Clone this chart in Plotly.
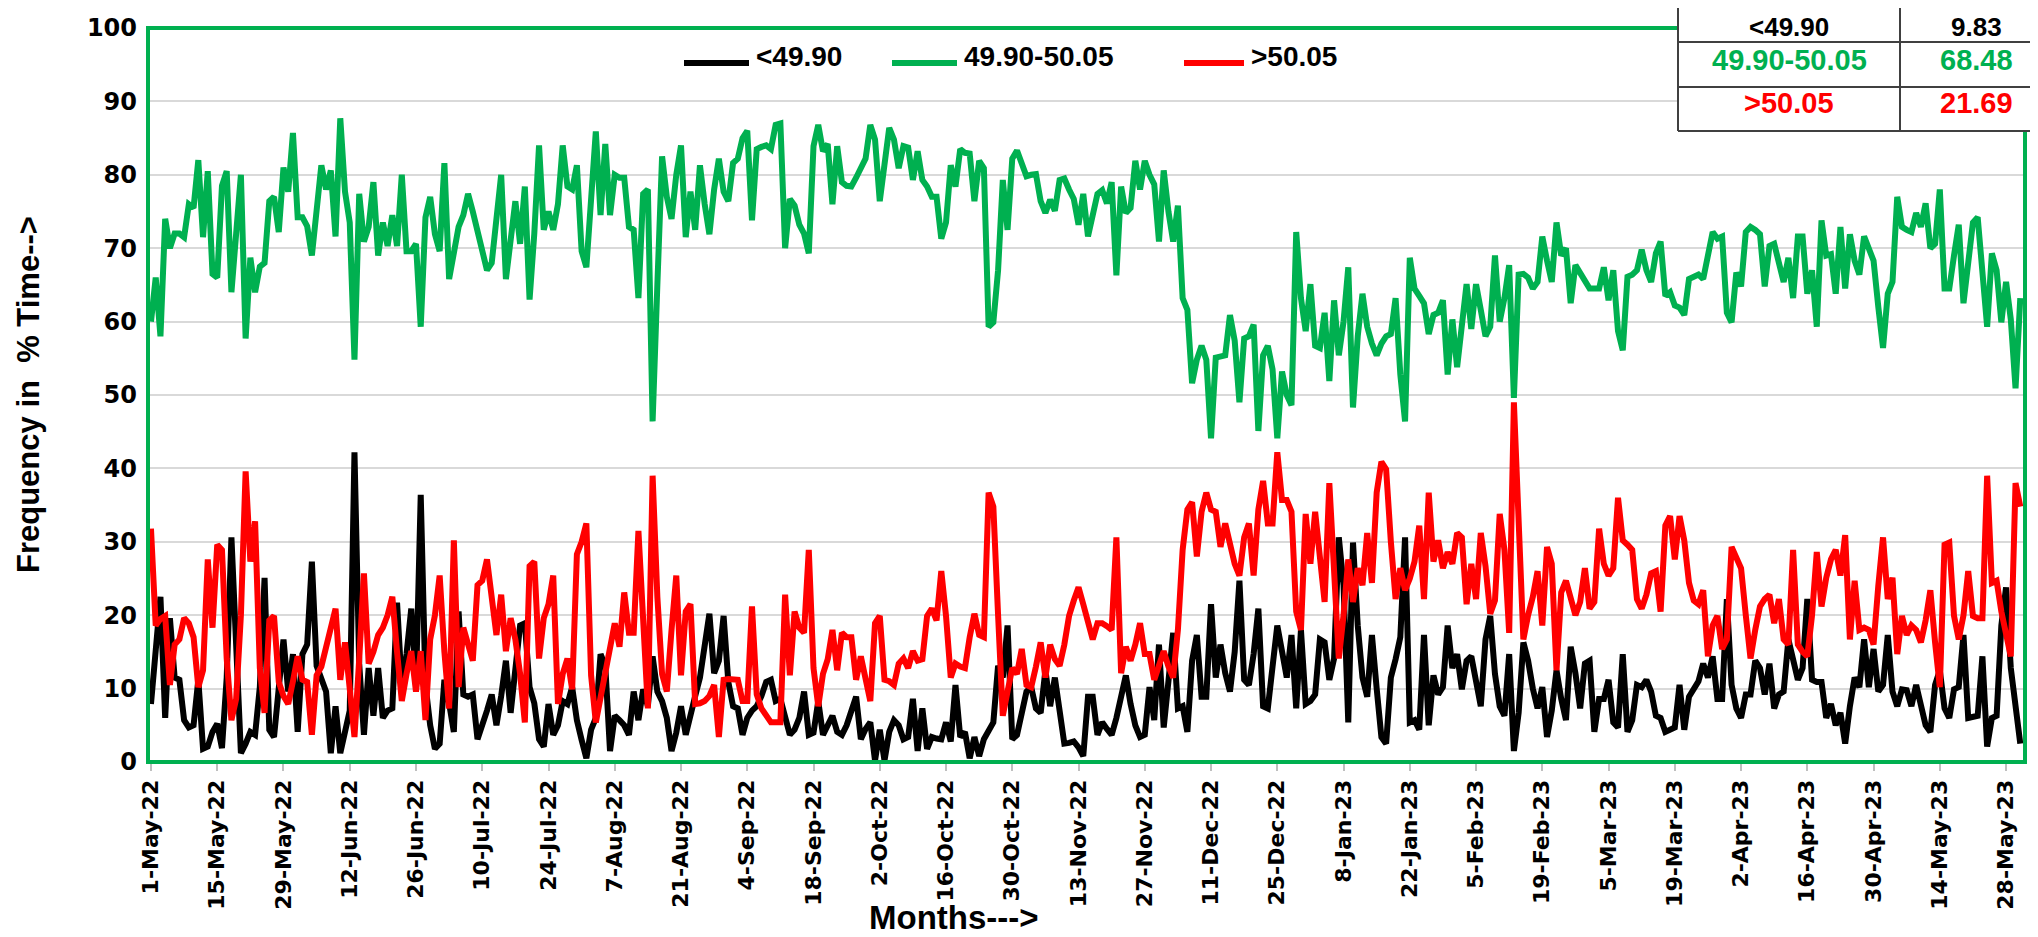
import pandas as pd
import plotly.graph_objects as go

# ---------------- data (daily % time in each frequency band) ----------------
start_date = "2022-05-01"

series_names = ["<49.90", "49.90-50.05", ">50.05"]
series_colors = ["#000000", "#00B050", "#FF0000"]

below_4990 = [
    7.9, 16, 22.5, 6, 19.6, 11.5, 11.2, 5.7, 4.7, 5,
    11.2, 1.8, 2.1, 4.1, 5.2, 1.9, 11.5, 30.6, 13.4, 1.2,
    2.5, 4.1, 3.7, 10.2, 25.1, 4.4, 3.4, 10, 16.7, 9.6,
    14.7, 4.1, 14.7, 16, 27.3, 13.1, 11, 9.6, 1.2, 7.6,
    1.2, 4, 7, 42.2, 13.4, 3.7, 12.8, 6.3, 12.8, 6,
    7, 7.3, 21.7, 10.2, 14.7, 20.9, 10.5, 36.4, 10.5, 5,
    1.8, 2.5, 11.2, 8, 4.1, 20.5, 9.2, 8.9, 9.2, 3.1,
    5.4, 7, 9.2, 5, 9, 13.8, 6.7, 12, 18.6, 18.9,
    10.2, 8, 3.1, 2.1, 7.9, 3.7, 5, 8.3, 7.9, 10.2,
    5.7, 3, 0.5, 4.4, 6, 14.7, 13.1, 1.5, 6.3, 5.7,
    5, 3.7, 9.6, 5.7, 9.9, 7.6, 14.4, 9.6, 8.3, 6,
    1.5, 4, 7.6, 3.7, 6.7, 9, 11.5, 16, 20.2, 12.1,
    13.8, 19.9, 10.9, 7.6, 7.3, 3.7, 6, 7, 7.6, 9,
    10.9, 11.2, 8.3, 8.6, 6, 3.7, 4.4, 6, 9.6, 3.7,
    4, 8.3, 3.7, 5, 6.3, 4.1, 3.7, 5, 7, 8.9,
    3.1, 4.5, 5.4, 0.2, 4.4, 0.2, 4.1, 5.7, 5, 3.1,
    3.4, 8.6, 1.5, 7.3, 1.8, 3.4, 3.2, 3.1, 5.4, 2.8,
    10.5, 3.4, 4.1, 0.5, 3.4, 0.8, 3.1, 4.4, 5.4, 13.1,
    11.5, 18.6, 3.1, 3.7, 7, 9.6, 10.2, 7.3, 6.7, 12.5,
    7.6, 11.5, 7, 2.5, 2.6, 2.8, 2, 0.8, 8.9, 8.9,
    3.7, 5.4, 4.5, 3.7, 6, 9, 11.8, 7.9, 5, 3.4,
    3.7, 10.2, 5.7, 16, 4.7, 11, 17.6, 7.3, 7.6, 4.1,
    13.8, 17.3, 8.9, 8.9, 21.5, 11.5, 16, 12.1, 9.6, 15,
    24.7, 11.2, 10.5, 14.7, 20.9, 7.6, 7.3, 13, 18.6, 15.1,
    11.5, 17.3, 7.3, 18, 7.9, 8.3, 9.2, 16.7, 16.3, 11.2,
    14.1, 30.6, 24.1, 5.4, 29.9, 18.6, 11.5, 8.9, 17.3, 10,
    3.4, 2.5, 11.5, 14, 17, 30.6, 5.4, 5.7, 4.4, 17.3,
    5, 11.8, 9.2, 10.2, 18.6, 12.8, 14.7, 9.9, 13.8, 14.4,
    11, 7.6, 16.7, 19.9, 12, 7.6, 6.3, 14.7, 1.5, 6.7,
    16.3, 13.8, 10, 7.3, 10.2, 3.4, 7, 12.5, 8.6, 5.7,
    15.7, 12.1, 7.3, 13.4, 13.8, 4.1, 8.6, 8.6, 11.2, 5.4,
    4.7, 14.7, 4.1, 5.7, 10.5, 10.2, 11.2, 9.6, 6.3, 6,
    4.1, 4.5, 4.7, 10.5, 4.4, 8.9, 9.9, 11, 13.4, 11.5,
    14.4, 8.6, 8.6, 22.2, 10.5, 7.3, 6, 9.2, 9.2, 13.8,
    12.8, 9.2, 13.4, 7.3, 9.2, 9.6, 16.7, 13.8, 11.2, 12.8,
    22.2, 11.2, 10.9, 10.9, 6, 7.9, 5, 6.7, 2.5, 7.6,
    11.5, 10.2, 16.7, 10.2, 15.4, 9.6, 10.5, 17.3, 9.6, 7.6,
    9.9, 9.8, 7.6, 10.5, 7.6, 5, 4.1, 10.5, 12.5, 7.3,
    6, 9.9, 10.2, 17.3, 6, 6.2, 6.3, 14.4, 2.1, 6,
    6.3, 18.6, 23.8, 12.8, 8, 2.5,
]

band_4990_5005 = [
    60, 66, 58, 74, 70, 72, 72, 71.5, 76, 75.5,
    82, 71.5, 80.5, 66.5, 66, 78.5, 80.5, 64, 72, 80,
    57.7, 68.7, 64, 67.5, 68, 76.4, 77, 72.2, 81, 77.7,
    85.7, 74.2, 74.2, 73, 69, 75, 81.3, 78, 80.6, 71.6,
    87.7, 77.7, 73.5, 54.8, 77.4, 70.9, 72.9, 79, 69, 73.5,
    70.3, 74.5, 70.3, 80, 69.6, 69.6, 70.6, 59.3, 74.2, 77,
    71.9, 69.6, 81.6, 65.8, 69, 72.9, 74.5, 77.4, 75, 72.2,
    69, 67, 68, 74, 80, 65.8, 72, 76.4, 70.6, 78.4,
    63, 72, 84, 72.5, 75, 72.5, 76, 84, 78.4, 78,
    81.3, 69.6, 67.4, 76, 85.9, 74.5, 84.2, 74.5, 80, 79.6,
    79.6, 72.9, 72.5, 63.2, 77.4, 78, 46.4, 65, 82.5, 77,
    74, 80, 84, 71.5, 77.7, 72.5, 81.3, 76, 71.9, 78,
    82.2, 77.7, 76.4, 81.6, 82.2, 85, 86, 73.8, 83.5, 83.8,
    84, 83.5, 86.8, 87, 70, 76.7, 75.8, 73.2, 72, 69.3,
    83.9, 86.8, 83.2, 84.2, 76, 83.9, 79, 78.5, 78.4, 79.6,
    81, 82.2, 86.8, 84.8, 76.4, 81, 86.4, 84.8, 80.9, 83.9,
    83.7, 79.3, 83.2, 79.3, 78.4, 77, 77, 71.3, 73.5, 81.3,
    78.4, 83.5, 83, 82.9, 76.4, 81.9, 80.9, 59.3, 59.9, 67,
    79.3, 72.5, 82.2, 83.3, 81.5, 79.8, 80, 80.1, 76.4, 74.8,
    76.6, 75.1, 79.3, 79.5, 78, 76.7, 73.2, 77.4, 71.6, 75,
    77.4, 77.9, 76.1, 79, 66.3, 78.4, 74.8, 75.5, 81.9, 78,
    81.9, 80, 78.7, 70.9, 80.6, 75, 70.9, 75.8, 63.2, 61.6,
    51.6, 54.8, 56.7, 54.8, 44.1, 55.1, 55.2, 55.4, 60.9, 57.4,
    49, 57.7, 58, 59.6, 45.1, 55.4, 56.7, 53.5, 44.1, 53.2,
    50, 48.6, 72.2, 63.2, 58.7, 65.1, 56.7, 56.4, 61.2, 51.9,
    62.9, 55.4, 60, 67.4, 48.3, 58, 63.8, 59.3, 57, 55.4,
    57, 58, 58.3, 63.2, 52.8, 46.4, 68.7, 64.5, 63.5, 62.5,
    58.3, 60.9, 61.2, 62.9, 52.8, 60.3, 53.8, 59.3, 65.1, 59,
    65.1, 61.6, 58, 59.3, 69, 60, 63.2, 67.7, 49.6, 66.4,
    66.5, 66, 64.5, 65.4, 71.6, 68.3, 65.4, 73.5, 69, 70,
    62.5, 67.7, 66.7, 65.8, 64.5, 64.5, 64.5, 67.4, 62.9, 67,
    58.7, 56.1, 66.1, 66.4, 67, 69.8, 67, 65.4, 69.3, 70.9,
    63.5, 64, 62.2, 61.9, 60.9, 65.8, 66.2, 66.4, 65.8, 69,
    72.2, 71.3, 71.6, 61.2, 59.9, 66.7, 64.8, 72.2, 72.9, 72.5,
    71.9, 64.8, 70.3, 70.6, 68, 65.4, 68.7, 63.2, 71.6, 71.6,
    63.8, 67, 59.3, 73.8, 69, 69.2, 63.8, 72.9, 64.5, 71.9,
    68.3, 66.4, 71.6, 70, 68.3, 62, 56.4, 63.8, 65.4, 77,
    72.9, 72.5, 72.2, 74.8, 72.9, 76.1, 70, 70.6, 78, 64.5,
    64.5, 69, 73.2, 62.5, 68, 73.5, 74.2, 67, 59.3, 69.3,
    67, 59.9, 65.4, 60.3, 50.9, 63.2,
]

above_5005 = [
    31.8, 18.6, 19.5, 19.9, 10.5, 16, 16.7, 19.6, 18.9, 17,
    10.2, 12.5, 27.6, 18.3, 29.6, 28.9, 14.1, 5.7, 8.6, 20,
    39.6, 27.3, 32.8, 12.8, 6.7, 19.3, 19.9, 10.9, 9, 7.9,
    11, 14.4, 11.2, 10.9, 3.7, 11.8, 13, 15.4, 18, 20.9,
    11.2, 16.3, 10, 3.4, 14, 25.7, 13.4, 15, 17.3, 18.3,
    20, 22.5, 15, 8.3, 12, 15.1, 9.6, 15.1, 5.7, 16.7,
    20, 25.4, 15, 7.3, 30.2, 10.2, 18.3, 16, 13.8, 24.1,
    24.7, 27.6, 21.5, 17.3, 22.8, 15.1, 19.6, 16.7, 12, 5.4,
    26.7, 27.3, 14.1, 19.6, 21.5, 25.4, 7.9, 12, 14.1, 9.9,
    28.3, 30, 32.5, 11.8, 5.4, 9, 12.8, 16, 18.9, 15.7,
    23.1, 17.6, 17.6, 31.5, 18, 7.3, 39, 22.5, 12, 9.6,
    18, 25.4, 11.8, 20.5, 21.5, 7.9, 8, 8.3, 9, 10.5,
    3.4, 11.2, 11.3, 11.2, 11.2, 8.3, 8.3, 21.2, 9.2, 7.3,
    6.5, 5.4, 5.4, 5.4, 22.8, 11.8, 20.5, 18.3, 17.6, 28.9,
    12.8, 7.6, 12, 14, 18, 12.5, 17.6, 17, 17, 11.2,
    14.4, 11.2, 8.3, 18.9, 19.9, 11.2, 11, 10.5, 13.4, 14.1,
    12.8, 15.1, 13.8, 14, 19.9, 20.9, 19.3, 26, 19.9, 11.5,
    13.4, 13, 12.8, 17, 20.2, 17.3, 17, 36.7, 34.8, 20,
    6.3, 9.6, 12.8, 12, 15.4, 10.5, 10.2, 13, 16.3, 11.5,
    16, 14, 13.1, 16, 19.9, 22, 23.8, 21.5, 19, 16.7,
    18.9, 18.9, 18.5, 18, 30.6, 12.1, 15.7, 13.8, 16, 18.9,
    14.7, 14.7, 11.2, 13.4, 15.1, 13, 11.5, 18, 28.9, 34.4,
    35.4, 28, 34.1, 36.7, 34.4, 34.1, 29.3, 32.5, 29.9, 27,
    25.4, 30.6, 32.5, 25.4, 34.4, 38.3, 32.5, 32.5, 42.2, 35.7,
    35.7, 34.1, 20.5, 18, 33.8, 27, 34.1, 27, 21.8, 38,
    25, 14.1, 20, 27.6, 21.8, 26.4, 24.1, 31.2, 24.4, 36.7,
    40.9, 39.9, 30, 22.2, 26.4, 23.4, 25, 27.3, 32.2, 22.2,
    36.7, 27.3, 30.2, 26.4, 28.6, 27, 31.2, 30.6, 21.5, 27,
    22.2, 31.2, 26.7, 20.2, 22, 33.8, 28.9, 17.6, 49, 33.5,
    16.7, 20, 22.5, 26, 18.6, 29.3, 27, 12.5, 23.1, 24.7,
    22.2, 20, 21.8, 26.4, 20.9, 21.8, 31.8, 27, 25.4, 26.4,
    36, 30.2, 29.6, 28.9, 22.2, 20.9, 22.8, 25.7, 26, 20.5,
    32.2, 33.5, 27.6, 33.5, 30.2, 24.4, 22, 21.5, 23.4, 14.4,
    18.6, 19.9, 15.4, 16.7, 29.3, 28, 26.4, 20, 14.1, 18,
    21.2, 22.2, 22.8, 18.9, 22.2, 16.7, 16, 28.9, 16, 15,
    14.4, 20, 28.6, 21.2, 25.1, 27.6, 28.9, 25.4, 30.9, 16.7,
    24.7, 18, 18.3, 18, 16, 24, 30.6, 22.2, 25.1, 14.7,
    19.9, 17.3, 18.6, 18, 16.3, 19.3, 23.4, 16.3, 10.2, 29.6,
    29.9, 19.9, 16.7, 20, 26, 19.9, 19.6, 19.6, 39, 24.4,
    24.7, 20.5, 17.3, 14.4, 38, 34.8,
]

tick_labels = [
    "1-May-22", "15-May-22", "29-May-22", "12-Jun-22", "26-Jun-22", "10-Jul-22",
    "24-Jul-22", "7-Aug-22", "21-Aug-22", "4-Sep-22", "18-Sep-22", "2-Oct-22",
    "16-Oct-22", "30-Oct-22", "13-Nov-22", "27-Nov-22", "11-Dec-22", "25-Dec-22",
    "8-Jan-23", "22-Jan-23", "5-Feb-23", "19-Feb-23", "5-Mar-23", "19-Mar-23",
    "2-Apr-23", "16-Apr-23", "30-Apr-23", "14-May-23", "28-May-23",
]

table_labels = ["<49.90", "49.90-50.05", ">50.05"]
table_values = ["9.83", "68.48", "21.69"]

# ---------------- build ----------------
all_series = [below_4990, band_4990_5005, above_5005]
n_days = len(band_4990_5005)
for s in all_series:
    if len(s) != n_days:
        raise ValueError(f"length mismatch {len(s)} vs {n_days}")

dates = pd.date_range(start_date, periods=n_days, freq="D")
tick_dates = pd.date_range(start_date, periods=len(tick_labels), freq="14D")

W, H = 2038, 937
L, R, T, B = 140, 21, 20, 183
PW, PH = W - L - R, H - T - B


def px(xp):
    return (xp - L) / PW


def py(yp):
    return (H - B - yp) / PH


fig = go.Figure()
for name, vals, col in zip(series_names, all_series, series_colors):
    fig.add_trace(go.Scatter(
        x=dates, y=vals, mode="lines", name=name,
        line=dict(color=col, width=6), showlegend=False,
    ))

x0 = pd.Timestamp(start_date) - pd.Timedelta(hours=0.63 * 24)
x1 = pd.Timestamp(start_date) + pd.Timedelta(hours=396.0 * 24)

bold = "bold"
fig.update_layout(
    width=W, height=H,
    margin=dict(l=L, r=R, t=T, b=B, autoexpand=False),
    paper_bgcolor="white", plot_bgcolor="white",
    xaxis=dict(
        range=[x0, x1], tickmode="array", tickvals=list(tick_dates), ticktext=tick_labels,
        tickangle=-90, ticks="outside", ticklen=8, tickcolor="#BFBFBF", tickwidth=2,
        tickfont=dict(family="DejaVu Sans", size=22, color="#000000", weight=bold),
        showgrid=False, zeroline=False, showline=False,
    ),
    yaxis=dict(
        range=[0, 100], tickmode="linear", tick0=0, dtick=10,
        ticks="", ticklabelstandoff=10,
        tickfont=dict(family="DejaVu Sans", size=24, color="#000000", weight=bold),
        showgrid=True, gridcolor="#D9D9D9", gridwidth=2,
        zeroline=False, showline=False,
    ),
)

shapes = []
# plot-area border
shapes.append(dict(type="rect", xref="paper", yref="paper", x0=0, x1=1, y0=0, y1=1,
                   line=dict(color="#00B050", width=4), fillcolor="rgba(0,0,0,0)", layer="above"))

# custom legend
legend_items = [
    (676, 741, 746, series_names[0], series_colors[0]),
    (884, 949, 954, series_names[1], series_colors[1]),
    (1176, 1236, 1241, series_names[2], series_colors[2]),
]
annotations = []
for lx0, lx1, tx, name, col in legend_items:
    shapes.append(dict(type="line", xref="paper", yref="paper", x0=px(lx0), x1=px(lx1),
                       y0=py(55), y1=py(55), line=dict(color=col, width=6), layer="above"))
    annotations.append(dict(xref="paper", yref="paper", x=px(tx), y=py(49), text=name,
                            showarrow=False, xanchor="left", yanchor="middle",
                            font=dict(family="Liberation Sans", size=28, color="#000000", weight=bold)))

# summary table (top right, partly beyond the canvas)
tx_left, tx_mid, tx_right = 1670, 1892, 2060
shapes.append(dict(type="rect", xref="paper", yref="paper", x0=px(tx_left), x1=px(tx_right),
                   y0=py(123), y1=py(-30), fillcolor="white", line=dict(width=0), layer="above"))
for ry in (34, 79, 123):
    shapes.append(dict(type="line", xref="paper", yref="paper", x0=px(tx_left), x1=px(tx_right),
                       y0=py(ry), y1=py(ry), line=dict(color="#404040", width=2), layer="above"))
for vx in (tx_left, tx_mid):
    shapes.append(dict(type="line", xref="paper", yref="paper", x0=px(vx), x1=px(vx),
                       y0=py(123), y1=py(-30), line=dict(color="#404040", width=2), layer="above"))

row_centers = [19, 52, 95]
row_sizes = [26, 29, 29]
for lab, val, col, yc, fs in zip(table_labels, table_values, series_colors, row_centers, row_sizes):
    for text, xc in ((lab, 1781), (val, 1968)):
        annotations.append(dict(xref="paper", yref="paper", x=px(xc), y=py(yc), text=text,
                                showarrow=False, xanchor="center", yanchor="middle", borderpad=0,
                                font=dict(family="Liberation Sans", size=fs, color=col, weight=bold)))

# axis titles
annotations.append(dict(xref="paper", yref="paper", x=px(946), y=py(929), text="Months--->",
                        showarrow=False, xanchor="center", yanchor="bottom", borderpad=0,
                        font=dict(family="Liberation Sans", size=33, color="#000000", weight=bold)))
annotations.append(dict(xref="paper", yref="paper", x=px(20), y=0.5, text="Frequency in  % Time-->",
                        showarrow=False, xanchor="center", yanchor="middle", textangle=-90,
                        font=dict(family="Liberation Sans", size=31, color="#000000", weight=bold)))

fig.update_layout(shapes=shapes, annotations=annotations)
fig.write_html("out.html")
